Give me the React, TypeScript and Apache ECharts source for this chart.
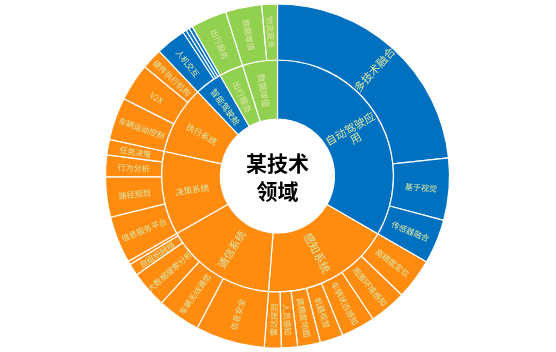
import React, { useEffect, useRef } from "react";
import * as echarts from "echarts";

// ---------- data ----------
const rootName = "某技术领域";

const level1Names = ["自动驾驶应用", "感知系统", "通信系统", "决策系统", "执行系统", "智能驾驶舱", "出行服务", "数据增值"];

const autoNames = ["多技术融合", "基于视觉", "传感器融合"];
const autoValues = [84, 21, 15];

const senseNames = ["高精度定位", "周围环境感知", "车辆状态感知", "机器视觉", "高精度地图", "人员感知", "雷达探测"];
const senseValues = [13.8, 12.5, 11.5, 7.8, 7.7, 5.5, 5.7];

const commNames = ["信息安全", "车辆无线通信", "大数据搜索分析", "自组织网络", ""];
const commValues = [23.4, 14.6, 12.5, 4.1, 1.2];

const decideNames = ["信息服务平台", "路径规划", "行为分析", "任务决策"];
const decideValues = [15.9, 13.6, 7.3, 5.3];

const execNames = ["车辆运动控制", "V2X", "硬件执行机构"];
const execValues = [14.4, 12.7, 7.1];

const cockpitNames = ["人机交互", "", "", ""];
const cockpitValues = [10.2, 1.2, 1.2, 1.2];

const travelNames = ["出行服务"];
const travelValues = [12.2];

const dataNames = ["数据增值", "物流服务"];
const dataValues = [12.2, 5.3];

const childNames = [autoNames, senseNames, commNames, decideNames, execNames, cockpitNames, travelNames, dataNames];
const childValues = [autoValues, senseValues, commValues, decideValues, execValues, cockpitValues, travelValues, dataValues];

// ---------- styles ----------
const BLUE = "#0070C0";
const ORANGE = "#FF8C0F";
const GREEN = "#92D050";
const groupColors = [BLUE, ORANGE, ORANGE, ORANGE, ORANGE, BLUE, GREEN, GREEN];
const innerFontSizes = [11, 11, 10.5, 8.5, 8.5, 8.5, 8.5, 8.5];
const LABEL_COLOR = "#d9e5a7";

export default function App() {
  const ref = useRef<HTMLDivElement>(null);

  useEffect(() => {
    if (!ref.current) return;
    const chart = echarts.init(ref.current, undefined, { renderer: "svg" });

    const children = level1Names.map((name, i) => ({
      name,
      itemStyle: { color: groupColors[i] },
      label: { fontSize: innerFontSizes[i] },
      children: childNames[i].map((cn, j) => ({
        name: cn,
        value: childValues[i][j],
        itemStyle: { color: groupColors[i] },
        label: cn === "" ? { show: false } : cn === "多技术融合" ? { fontSize: 11 } : undefined,
      })),
    }));

    chart.setOption({
      animation: false,
      textStyle: { fontFamily: '"Noto Sans CJK SC", sans-serif' },
      series: [
        {
          type: "sunburst",
          center: [277.5, 176],
          radius: [0, 172],
          sort: null,
          nodeClick: false,
          startAngle: 90,
          itemStyle: { borderColor: "#fff", borderWidth: 1.2 },
          label: { color: LABEL_COLOR, rotate: "radial" },
          emphasis: { disabled: true },
          levels: [
            {},
            {
              r0: 0,
              r: 57,
              itemStyle: { color: "#fff", borderWidth: 0 },
              label: { rotate: 0 },
            },
            {
              r0: 57,
              r: 116,
              label: { fontSize: 11, width: 58, overflow: "break" },
            },
            {
              r0: 116,
              r: 172,
              label: { fontSize: 8 },
            },
          ],
          data: [
            {
              name: rootName,
              itemStyle: { color: "#fff" },
              label: {
                formatter: "某技术\n领域",
                rotate: 0,
                color: "#000",
                fontSize: 21,
                fontWeight: "bold",
                lineHeight: 28,
              },
              children,
            },
          ],
        },
      ],
    });

    return () => chart.dispose();
  }, []);

  return (
    <div
      ref={ref}
      style={{ position: "fixed", left: 0, top: 0, width: 556, height: 352 }}
    />
  );
}
